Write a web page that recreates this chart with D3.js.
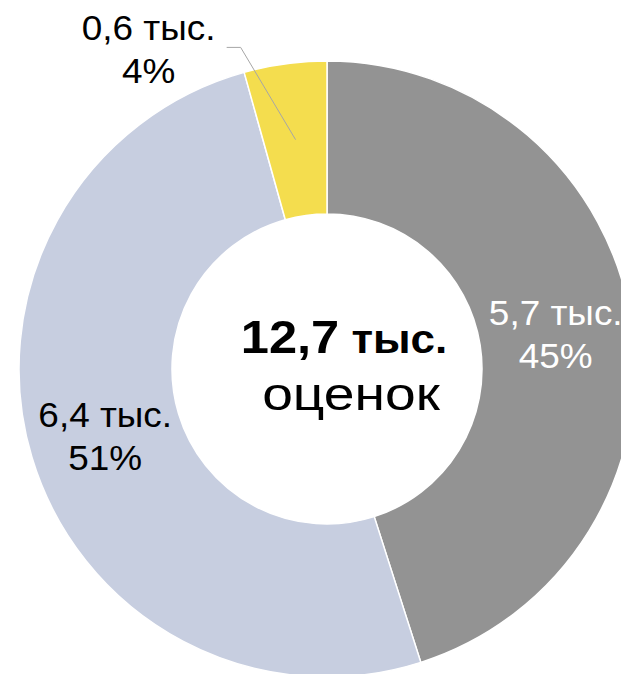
<!DOCTYPE html>
<meta charset="utf-8">
<head>
    <style>
        body { margin: 0; background: #ffffff; }
        svg { display: block; }
        text { font-family: "Liberation Sans", Arial, sans-serif; }
    </style>
    <script src="https://d3js.org/d3.v7.min.js"></script>
</head>
<body>
<svg id="donut"></svg>
<script>
    // данные (тыс. оценок, по углам сегментов)
    var values = [5.72, 6.42, 0.55];
    var valueLabels = ["5,7 тыс.", "6,4 тыс.", "0,6 тыс."];
    var shareLabels = ["45%", "51%", "4%"];
    var colors = ["#939393", "#c7cee0", "#f4dd4e"];
    var labelColors = ["#ffffff", "#000000", "#000000"];
    var totalLabel = "12,7";
    var totalUnit = "тыс.";
    var totalCaption = "оценок";

    var width = 621, height = 674;
    var cx = 327, cy = 369;
    var outerR = 308, innerR = 155;

    var svg = d3.select("#donut")
        .attr("width", width)
        .attr("height", height);

    var g = svg.append("g")
        .attr("transform", "translate(" + cx + "," + cy + ")");

    var pie = d3.pie().sort(null).value(function(d){ return d; });
    var arcs = pie(values);

    var arc = d3.arc().innerRadius(innerR).outerRadius(outerR);
    var midArc = d3.arc().innerRadius((innerR + outerR) / 2).outerRadius((innerR + outerR) / 2);

    g.selectAll("path.slice")
        .data(arcs)
        .enter()
        .append("path")
        .attr("class", "slice")
        .attr("d", arc)
        .style("fill", function(d, i){ return colors[i]; })
        .style("stroke", "#ffffff")
        .style("stroke-width", 1.5);

    // текст, слегка растянутый по горизонтали, как в оригинале
    function label(parent, x, y, sx, size, weight, color, str) {
        var t = parent.append("text")
            .attr("transform", "translate(" + x + "," + y + ") scale(" + sx + ",1)")
            .attr("text-anchor", "middle")
            .style("font-size", size + "px")
            .style("font-weight", weight)
            .style("fill", color);
        if (str != null) t.text(str);
        return t;
    }

    arcs.forEach(function(d, i){
        var c = midArc.centroid(d);
        var lx, ly;
        if (i < 2) {
            lx = c[0]; ly = c[1];
        } else {
            // выноска для маленького сегмента
            var a = d.startAngle + 0.01;
            var r = outerR + 25;
            var elbow = [r * Math.sin(a), -r * Math.cos(a)];
            var end = [elbow[0] - 14, elbow[1]];
            g.append("polyline")
                .attr("points", [c, elbow, end].map(function(p){ return p.join(","); }).join(" "))
                .style("fill", "none")
                .style("stroke", "#a6a6a6")
                .style("stroke-width", 1);
            lx = end[0] - 78; ly = end[1] + 1;
        }
        label(g, lx, ly - 8, 1.055, 35, "normal", labelColors[i], valueLabels[i]);
        label(g, lx, ly + 35, 1.055, 35, "normal", labelColors[i], shareLabels[i]);
    });

    // центр
    var t1 = label(g, 17, -16, 1.1, 46, "bold", "#000000", null);
    t1.append("tspan").style("font-size", "46px").text(totalLabel);
    t1.append("tspan").style("font-size", "40px").text(" " + totalUnit);

    label(g, 24, 41, 1.2, 46, "normal", "#000000", totalCaption);
</script>
</body>
</html>
